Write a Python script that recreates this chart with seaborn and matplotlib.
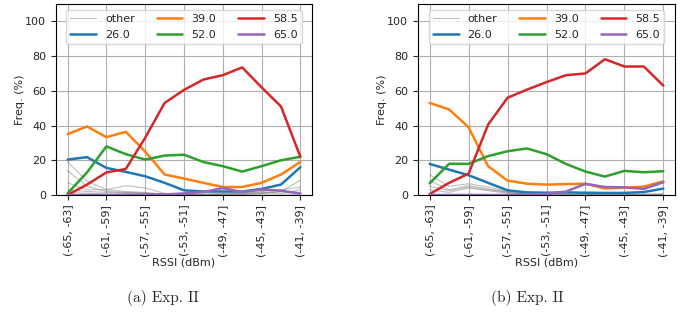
import numpy as np
import pandas as pd
import matplotlib
matplotlib.use("Agg")
import matplotlib.pyplot as plt
import seaborn as sns

# RSSI bins (2 dBm wide)
bins = ['(-65, -63]', '(-63, -61]', '(-61, -59]', '(-59, -57]', '(-57, -55]',
        '(-55, -53]', '(-53, -51]', '(-51, -49]', '(-49, -47]', '(-47, -45]',
        '(-45, -43]', '(-43, -41]', '(-41, -39]']

# Exp. II (a)
a_26 = [20.4, 21.8, 15.6, 13.3, 10.8, 7.0, 2.7, 2.0, 2.0, 2.0, 3.5, 6.0, 16.0]
a_39 = [35.0, 39.5, 33.3, 36.4, 25.0, 11.8, 9.5, 7.0, 4.6, 4.6, 7.0, 11.8, 19.0]
a_52 = [1.0, 13.0, 28.0, 23.5, 20.4, 22.7, 23.2, 19.0, 16.6, 13.5, 16.6, 20.0, 22.0]
a_585 = [0.0, 6.0, 13.0, 15.0, 33.0, 53.0, 60.5, 66.5, 69.0, 73.5, 62.0, 51.0, 22.0]
a_65 = [0.0, 0.0, 0.0, 0.2, 0.3, 0.3, 0.9, 1.7, 4.0, 1.7, 3.1, 2.5, 0.8]
a_other = [
    [19.0, 8.0, 3.0, 2.0, 1.5, 0.5, 0.5, 0.3, 0.3, 0.5, 1.0, 2.0, 8.5],
    [14.0, 5.0, 2.0, 1.5, 1.0, 0.3, 0.3, 0.3, 0.5, 1.0, 2.0, 3.0, 4.5],
    [7.0, 3.0, 3.0, 5.4, 4.0, 1.0, 0.5, 0.5, 1.0, 1.0, 1.5, 1.0, 3.0],
    [3.0, 2.0, 1.5, 1.5, 1.0, 0.5, 0.2, 0.2, 0.5, 0.5, 1.0, 2.0, 1.5],
    [1.5, 1.0, 0.5, 0.5, 0.5, 0.2, 0.2, 0.2, 0.2, 0.3, 0.5, 0.5, 0.5],
]

# Exp. II (b)
b_26 = [17.9, 14.6, 11.4, 7.0, 2.7, 1.5, 1.3, 1.5, 1.3, 1.2, 1.2, 1.7, 3.7]
b_39 = [53.0, 49.3, 39.0, 16.6, 8.3, 6.5, 6.0, 6.3, 6.5, 3.7, 4.2, 4.8, 7.9]
b_52 = [6.7, 18.0, 17.9, 22.4, 25.2, 26.8, 23.5, 17.9, 13.5, 10.6, 13.9, 13.1, 13.7]
b_585 = [0.5, 7.0, 12.3, 40.5, 56.0, 60.7, 65.0, 69.0, 70.0, 78.2, 74.0, 74.0, 63.0]
b_65 = [0.0, 0.0, 0.0, 0.0, 0.0, 0.3, 0.6, 2.0, 6.4, 4.6, 4.4, 3.5, 7.3]
b_other = [
    [11.7, 5.0, 6.5, 4.6, 2.0, 1.0, 1.0, 0.5, 0.5, 0.5, 0.5, 0.5, 0.5],
    [8.2, 3.0, 5.4, 3.5, 1.7, 0.5, 0.5, 0.5, 0.3, 0.3, 0.3, 0.3, 0.5],
    [5.0, 2.5, 4.6, 3.0, 1.5, 0.5, 0.3, 0.3, 0.3, 0.3, 0.3, 0.3, 0.3],
    [3.0, 1.5, 4.0, 2.5, 1.0, 0.3, 0.2, 0.2, 0.2, 0.2, 0.2, 0.2, 0.2],
]

sns.set_theme(style="ticks", rc={"axes.grid": True, "grid.color": "#b0b0b0",
                                 "axes.edgecolor": "black", "font.size": 8})
plt.rcParams['font.family'] = ['DejaVu Sans']

fig = plt.figure(figsize=(6.94, 3.12), dpi=100)
ax1 = fig.add_axes([56 / 694, 117 / 312, 256 / 694, 191 / 312])
ax2 = fig.add_axes([418 / 694, 117 / 312, 257 / 694, 191 / 312])

pal = sns.color_palette("tab10")
x = np.arange(len(bins))


def dibujar(ax, others, s26, s39, s52, s585, s65):
    # lineas grises para el resto de valores
    for k, o in enumerate(others):
        sns.lineplot(x=x, y=o, ax=ax, color="gray", lw=0.8, alpha=0.5,
                     label="other" if k == 0 else None)
    for vals, col, lab in [(s26, pal[0], "26.0"), (s39, pal[1], "39.0"),
                           (s52, pal[2], "52.0"), (s585, pal[3], "58.5"),
                           (s65, pal[4], "65.0")]:
        sns.lineplot(x=x, y=vals, ax=ax, color=col, lw=1.8, label=lab)
    ax.set_ylim(0, 110)
    ax.set_xlim(-0.6, len(bins) - 0.4)
    ax.set_yticks([0, 20, 40, 60, 80, 100])
    ax.set_xticks(x[::2])
    ax.set_xticklabels(bins[::2], rotation=90, fontsize=8)
    ax.tick_params(axis="y", labelsize=8, length=3.5, width=0.8)
    ax.tick_params(axis="x", length=3.5, width=0.8)
    ax.set_xlabel("RSSI (dBm)", fontsize=8, labelpad=0.5)
    ax.set_ylabel("Freq. (%)", fontsize=8, labelpad=0.5)
    ax.grid(True, color="#b0b0b0", lw=0.8)
    for s in ax.spines.values():
        s.set_linewidth(0.8)
        s.set_color("black")
    ax.legend(loc="upper center", ncol=3, fontsize=8, frameon=True,
              framealpha=0.8, edgecolor="#d0d0d0", fancybox=True,
              handlelength=2.3)


dibujar(ax1, a_other, a_26, a_39, a_52, a_585, a_65)
dibujar(ax2, b_other, b_26, b_39, b_52, b_585, b_65)

fig.text(163 / 694, 1 - 298 / 312, "(a) Exp. II", ha="center", va="center",
         fontsize=11, family="cmr10")
fig.text(527 / 694, 1 - 298 / 312, "(b) Exp. II", ha="center", va="center",
         fontsize=11, family="cmr10")

fig.savefig("out.png", dpi=100)
